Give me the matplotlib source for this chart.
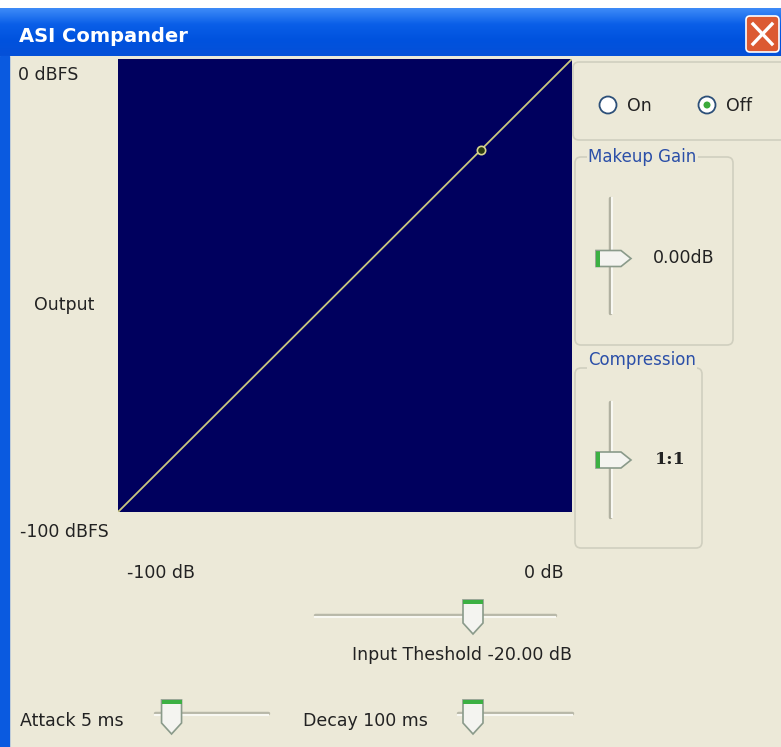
import matplotlib.pyplot as plt
import numpy as np
from matplotlib.colors import LinearSegmentedColormap
from matplotlib.patches import Rectangle, FancyBboxPatch, Circle, Polygon

# transfer curve (dB)
input_db = [-100, 0]
output_db = [-100, 0]
threshold_db = -20.0

# control values
makeup_gain_db = 0.00
compression_ratio = 1
attack_ms = 5
decay_ms = 100
power_on = False

W, H = 781, 747
BG = "#ECE9D8"
NAVY = "#00005E"
BLUE_TXT = "#2B4FA8"
FONT = "DejaVu Sans"
FS = 12.5

fig = plt.figure(figsize=(W / 100, H / 100), dpi=100)
fig.patch.set_facecolor(BG)

ui = fig.add_axes([0, 0, 1, 1])
ui.set_xlim(0, W)
ui.set_ylim(H, 0)
ui.axis("off")

# window frame + title bar
xp = LinearSegmentedColormap.from_list("xp", ["#3D8AF7", "#0A5FE8", "#0052DE", "#0550D8"])
ui.add_patch(Rectangle((0, 0), W, 8, color="white", zorder=1))
ui.imshow(np.linspace(0, 1, 50).reshape(-1, 1), extent=[0, W, 56, 8], cmap=xp,
          aspect="auto", zorder=1)
ui.add_patch(Rectangle((0, 56), 9, H - 56, color="#0A5AE0", zorder=1))
ui.text(19, 37, "ASI Compander", color="white", fontsize=14, fontweight="bold",
        family=FONT, va="center", ha="left", zorder=3)
ui.add_patch(FancyBboxPatch((746, 16), 33, 36, boxstyle="round,pad=0,rounding_size=4",
                            fc="#DC5A32", ec="white", lw=1.2, zorder=3))
ui.plot([753, 772], [24, 44], color="white", lw=2.4, zorder=4)
ui.plot([772, 753], [24, 44], color="white", lw=2.4, zorder=4)

# axis labels
lab = dict(fontsize=FS, family=FONT, color="#222222", zorder=3)
ui.text(18, 75, "0 dBFS", va="center", ha="left", **lab)
ui.text(94, 305, "Output", va="center", ha="right", **lab)
ui.text(20, 532, "-100 dBFS", va="center", ha="left", **lab)
ui.text(127, 573, "-100 dB", va="center", ha="left", **lab)
ui.text(564, 573, "0 dB", va="center", ha="right", **lab)

# plot area
ax = fig.add_axes([118 / W, 1 - 512 / H, 454 / W, 453 / H])
ax.set_facecolor(NAVY)
ax.set_xlim(-100, 0)
ax.set_ylim(-100, 0)
ax.set_xticks([])
ax.set_yticks([])
for s in ax.spines.values():
    s.set_visible(False)
ax.plot(input_db, output_db, color="#C9C77E", lw=1.3)
thr_out = np.interp(threshold_db, input_db, output_db)
ax.plot([threshold_db], [thr_out], marker="o", ms=6, mfc="#2A3A10", mec="#D8D690", mew=1.2)


def group(x0, y0, x1, y1, title=None, tx=None, ty=None):
    ui.add_patch(FancyBboxPatch((x0, y0), x1 - x0, y1 - y0,
                                boxstyle="round,pad=0,rounding_size=6",
                                fc="none", ec="#D0CFBF", lw=1.2, zorder=2))
    if title:
        ui.text(tx, ty if ty else y0, title, color=BLUE_TXT, fontsize=12, family=FONT,
                va="center", ha="left", zorder=3,
                bbox=dict(fc=BG, ec="none", pad=1))


def vthumb(xc, yc):
    pts = [(xc - 16, yc - 8), (xc + 9, yc - 8), (xc + 19, yc), (xc + 9, yc + 8), (xc - 16, yc + 8)]
    ui.add_patch(Polygon(pts, closed=True, fc="#F4F4F0", ec="#8A9A8A", lw=1.2, zorder=4))
    ui.add_patch(Rectangle((xc - 16, yc - 8), 4, 16, fc="#3CB043", ec="none", zorder=5))


def hthumb(xc, yc):
    pts = [(xc - 10, yc - 14), (xc + 10, yc - 14), (xc + 10, yc + 9), (xc, yc + 20), (xc - 10, yc + 9)]
    ui.add_patch(Polygon(pts, closed=True, fc="#F4F4F0", ec="#8A9A8A", lw=1.2, zorder=4))
    ui.add_patch(Rectangle((xc - 10, yc - 14), 20, 4, fc="#3CB043", ec="none", zorder=5))


def htrack(x0, x1, y):
    ui.plot([x0, x1], [y, y], color="#B8B8A8", lw=2.5, solid_capstyle="round", zorder=3)
    ui.plot([x0, x1], [y + 2, y + 2], color="#F8F8F2", lw=1.5, zorder=3)


def vtrack(x, y0, y1):
    ui.plot([x, x], [y0, y1], color="#B0B0A0", lw=2.5, solid_capstyle="round", zorder=3)
    ui.plot([x + 2, x + 2], [y0, y1], color="#F8F8F2", lw=1.5, zorder=3)


def slider_pos(v, vmin, vmax, p0, p1):
    return p0 + (v - vmin) / (vmax - vmin) * (p1 - p0)


# on/off group
group(573, 62, 790, 140)
for cx, name, sel in [(608, "On", power_on), (707, "Off", not power_on)]:
    ui.add_patch(Circle((cx, 105), 8.5, fc="white", ec="#2C4F78", lw=1.3, zorder=4))
    if sel:
        ui.add_patch(Circle((cx, 105), 3.5, fc="#3CAA3C", ec="none", zorder=5))
    ui.text(cx + 19, 106, name, va="center", ha="left", **lab)

# makeup gain
group(575, 157, 733, 345, "Makeup Gain", 588)
vtrack(610, 198, 313)
vthumb(612, slider_pos(makeup_gain_db, 20, -20, 198, 313) + 3)
ui.text(653, 258, f"{makeup_gain_db:.2f}dB", va="center", ha="left", **lab)

# compression
group(575, 368, 702, 548, "Compression", 588, 360)
vtrack(610, 402, 517)
vthumb(612, 460)
ui.text(655, 460, f"{compression_ratio}:1", va="center", ha="left", fontsize=12.5,
        family="DejaVu Serif", fontweight="bold", color="#222222", zorder=3)

# input threshold
htrack(315, 555, 615)
hthumb(slider_pos(threshold_db, -100, 20, 315, 555) - 2, 614)
ui.text(352, 655, f"Input Theshold {threshold_db:.2f} dB", va="center", ha="left", **lab)

# attack / decay
ui.text(20, 721, f"Attack {attack_ms} ms", va="center", ha="left", **lab)
htrack(155, 268, 713)
hthumb(slider_pos(attack_ms, 0, 100, 167, 268) - 0.5, 714)
ui.text(303, 721, f"Decay {decay_ms} ms", va="center", ha="left", **lab)
htrack(458, 572, 713)
hthumb(slider_pos(decay_ms, 0, 1000, 462, 572) + 0, 714)

fig.savefig("out.png", dpi=100, facecolor=BG)
